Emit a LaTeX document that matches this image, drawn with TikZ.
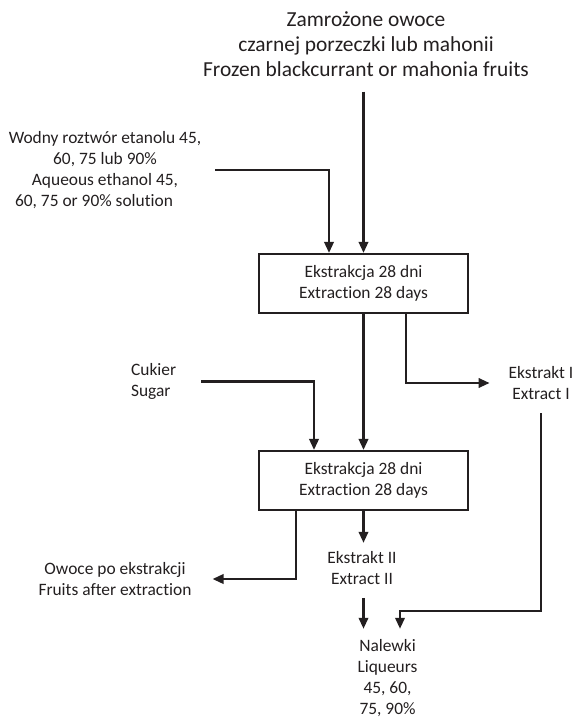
\documentclass[tikz,border=0pt]{standalone}
\usepackage{fontspec}
\setmainfont{Carlito}[Ligatures=NoCommon]
\usetikzlibrary{arrows.meta,positioning}
\definecolor{ink}{RGB}{35,31,32}
\tikzset{
every picture/.style={
line width=2.2pt
}}
\tikzset{
  stage/.style={
    draw=ink,
    minimum width=209pt,
    minimum height=59pt,
    inner sep=0pt,
    align=center,
    text=ink,
    font=\fontsize{17.4}{21}\selectfont
  },
  txt/.style={
    inner sep=0pt,
    align=center,
    text=ink,
    font=\fontsize{17.4}{21}\selectfont
  },
  flow/.style={
    draw=ink,
    -{Triangle[length=11pt,width=9.5pt]}
  }
}

\begin{document}
\begin{tikzpicture}[x=1pt,y=-1pt]
\useasboundingbox (0,0) rectangle (572,718);

\node [txt, font=\fontsize{21.4}{25}\selectfont] at (366,44) (fruit) {Zamrożone owoce\\czarnej porzeczki lub mahonii\\Frozen blackcurrant or mahonia fruits};
\node [txt] at (105,170) (eth) {Wodny roztwór etanolu 45,\\60, 75 lub 90\%\hspace*{15pt}\\Aqueous ethanol 45,\hspace*{8pt}\\60, 75 or 90\% solution\hspace*{22pt}};

\node [stage] at (363.5,283.5) (ex1) {Ekstrakcja 28 dni\\Extraction 28 days};
\node [stage, below=135.8pt of ex1] (ex2) {Ekstrakcja 28 dni\\Extraction 28 days};

\node [txt, align=left, anchor=west] at (130,381.5) (sug) {Cukier\\Sugar};
\node [txt] at (541,383) (ekI) {Ekstrakt I\\Extract I};
\node [txt] at (362,568.5) (ekII) {Ekstrakt II\\Extract II};
\node [txt] at (115,579) (fru) {Owoce po ekstrakcji\\Fruits after extraction};
\node [txt] at (387.5,678.5) (nal) {Nalewki\\Liqueurs\\45, 60,\\75, 90\%};

\draw [flow, shorten <=14pt] (fruit.south -| ex1.north) -- (ex1.north);
\draw [flow, shorten <=13pt] (eth.east) -| ([xshift=-34.5pt]ex1.north);
\draw [flow] (ex1) -- (ex2);
\draw [flow, shorten >=18pt] ([xshift=42.5pt]ex1.south) |- (ekI.west);
\draw [flow, shorten <=24pt] (sug.east) -| ([xshift=-49.5pt]ex2.north);
\draw [flow, shorten >=20pt] ([xshift=-67.5pt]ex2.south) |- (fru.east);
\draw [flow, shorten >=8pt] (ex2.south) -- (ex2.south |- ekII.north);
\draw [flow, shorten <=11.6pt, shorten >=10pt] (ekII.south -| ex2.south) -- (nal.north -| ex2.south);
\draw [flow, shorten <=12.6pt, shorten >=10pt] (ekI.south) |- ([xshift=12.5pt,yshift=28pt]nal.north) -- ([xshift=12.5pt]nal.north);

\end{tikzpicture}
\end{document}
